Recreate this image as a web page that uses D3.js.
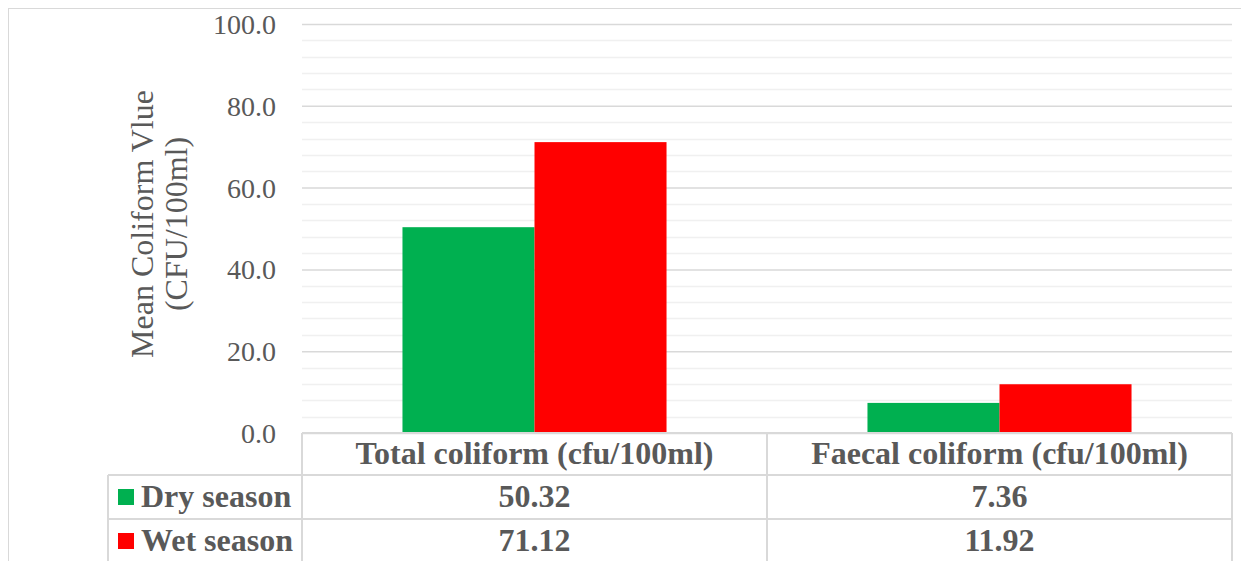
<!DOCTYPE html>
<html>
<head>
<meta charset="utf-8">
<script src="https://cdn.jsdelivr.net/npm/d3@7"></script>
<style>
  body { margin: 0; background: #fff; }
  svg text { font-family: "Liberation Serif", "Times New Roman", serif; fill: #595959; }
</style>
</head>
<body>
<script>
// chart data
var categories = ["Total coliform (cfu/100ml)", "Faecal coliform (cfu/100ml)"];
var seriesNames = ["Dry season", "Wet season"];
var dryValues = [50.32, 7.36];
var wetValues = [71.12, 11.92];
var yTicks = [0, 20, 40, 60, 80, 100];
var colors = ["#00b050", "#ff0000"];

var width = 1241, height = 561;
var plotLeft = 302, plotRight = 1232, plotTop = 24, plotBottom = 433;
var rowH = 44;
var gray = "#d9d9d9";
var serif = "'Liberation Serif', 'Times New Roman', serif";

var svg = d3.select("body").append("svg")
    .attr("width", width)
    .attr("height", height)
    .attr("font-family", serif);

// outer chart border
svg.append("rect")
    .attr("x", 8.5).attr("y", 8.5)
    .attr("width", 1240).attr("height", 560)
    .attr("fill", "none")
    .attr("stroke", gray);

var xScale = d3.scaleBand().domain(categories).range([plotLeft, plotRight]);
var xInner = d3.scaleBand().domain(seriesNames)
    .range([0, xScale.bandwidth()])
    .paddingOuter(0.761);
var yScale = d3.scaleLinear().domain([0, 100]).range([plotBottom, plotTop]);

// minor gridlines every 4
var minor = d3.range(4, 100, 4).filter(function (d) { return d % 20 !== 0; });
svg.append("g").selectAll("line").data(minor).enter().append("line")
    .attr("x1", plotLeft).attr("x2", plotRight)
    .attr("y1", function (d) { return Math.round(yScale(d)) + 0.5; })
    .attr("y2", function (d) { return Math.round(yScale(d)) + 0.5; })
    .attr("stroke", "#f0f0f0").attr("stroke-width", 1.5);

// major gridlines + labels
var yAxis = d3.axisLeft(yScale)
    .tickValues(yTicks)
    .tickSize(-(plotRight - plotLeft))
    .tickPadding(26)
    .tickFormat(d3.format(".1f"));
var gy = svg.append("g")
    .attr("transform", "translate(" + plotLeft + ",0)")
    .call(yAxis)
    .attr("font-family", serif);
gy.select(".domain").remove();
gy.selectAll(".tick line").attr("stroke", gray).attr("stroke-width", 1.5);
gy.selectAll(".tick text")
    .style("font-size", "28px")
    .attr("fill", "#595959")
    .attr("dy", "0.34em");

// bars
var data = categories.map(function (c, i) {
    return { cat: c, values: [dryValues[i], wetValues[i]] };
});
var groups = svg.append("g").selectAll("g").data(data).enter().append("g")
    .attr("transform", function (d) { return "translate(" + xScale(d.cat) + ",0)"; });
groups.selectAll("rect")
    .data(function (d) { return d.values.map(function (v, j) { return { name: seriesNames[j], v: v, j: j }; }); })
    .enter().append("rect")
    .attr("x", function (d) { return xInner(d.name); })
    .attr("width", xInner.bandwidth())
    .attr("y", function (d) { return yScale(d.v); })
    .attr("height", function (d) { return plotBottom - yScale(d.v); })
    .attr("fill", function (d) { return colors[d.j]; });

// y axis title
var title = svg.append("text")
    .attr("transform", "translate(153,224) rotate(-90)")
    .attr("text-anchor", "middle")
    .style("font-size", "32px");
title.append("tspan").attr("x", 0).attr("y", 0).text("Mean Coliform Vlue");
title.append("tspan").attr("x", 0).attr("y", 34).text("(CFU/100ml)");

// data table
var tbl = svg.append("g").attr("stroke", gray).attr("stroke-width", 2);
var rowY = [plotBottom, plotBottom + 42, plotBottom + 42 + rowH];
tbl.append("line").attr("x1", plotLeft).attr("x2", plotRight).attr("y1", rowY[0]).attr("y2", rowY[0]);
tbl.append("line").attr("x1", 108).attr("x2", plotRight).attr("y1", rowY[1]).attr("y2", rowY[1]);
tbl.append("line").attr("x1", 108).attr("x2", plotRight).attr("y1", rowY[2]).attr("y2", rowY[2]);
tbl.append("line").attr("x1", 108).attr("x2", 108).attr("y1", rowY[1]).attr("y2", height + 5);
var colX = [plotLeft].concat(categories.map(function (c) { return xScale(c) + xScale.bandwidth(); }));
tbl.selectAll(".vcol").data(colX).enter().append("line")
    .attr("x1", function (d) { return d; }).attr("x2", function (d) { return d; })
    .attr("y1", rowY[0]).attr("y2", height + 5);

// header
svg.append("g").selectAll("text").data(categories).enter().append("text")
    .attr("x", function (d) { return xScale(d) + xScale.bandwidth() / 2; })
    .attr("y", 464)
    .attr("text-anchor", "middle")
    .style("font-size", "32px").style("font-weight", "bold")
    .text(function (d) { return d; });

// rows
var rows = [dryValues, wetValues];
var baseY = [507, 551];
rows.forEach(function (vals, r) {
    svg.append("rect")
        .attr("x", 118).attr("y", baseY[r] - 18)
        .attr("width", 16).attr("height", 16)
        .attr("fill", colors[r]);
    svg.append("text")
        .attr("x", 141).attr("y", baseY[r])
        .style("font-size", "32px").style("font-weight", "bold")
        .text(seriesNames[r]);
    svg.append("g").selectAll("text").data(vals).enter().append("text")
        .attr("x", function (d, i) { return xScale(categories[i]) + xScale.bandwidth() / 2; })
        .attr("y", baseY[r])
        .attr("text-anchor", "middle")
        .style("font-size", "32px").style("font-weight", "bold")
        .text(function (d) { return d3.format(".2f")(d); });
});
</script>
</body>
</html>
